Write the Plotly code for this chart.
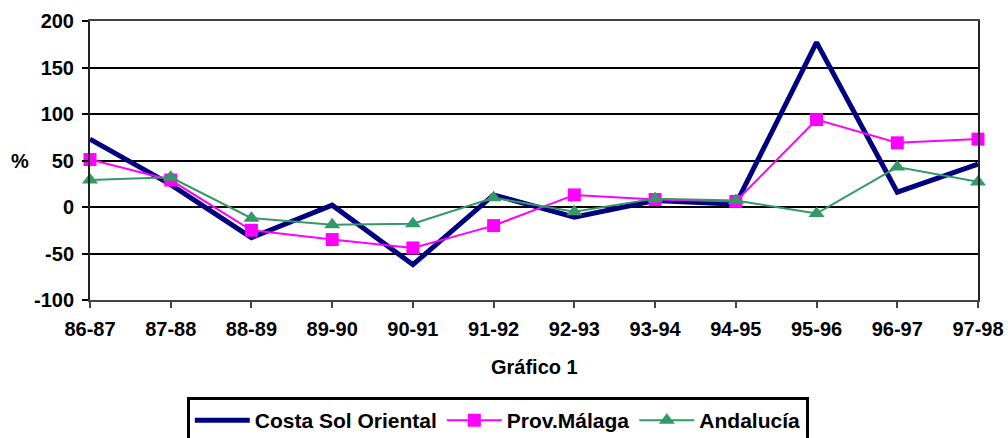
import plotly.graph_objects as go

# campañas
periodos = ["86-87", "87-88", "88-89", "89-90", "90-91", "91-92",
            "92-93", "93-94", "94-95", "95-96", "96-97", "97-98"]

# variación (%)
costa_sol = [73, 24, -33, 2, -62, 13, -11, 7, 3, 177, 16, 46]
prov_malaga = [51, 29, -25, -35, -44, -20, 13, 8, 6, 94, 69, 73]
andalucia = [29, 32, -12, -19, -18, 10, -5, 9, 7, -7, 43, 27]

# eje y
y_ticks = [-100, -50, 0, 50, 100, 150, 200]
y_labels = ["-100", "-50", "0", "50", "100", "150", "200"]

FONT = "Liberation Sans, Arial, sans-serif"

fig = go.Figure()
fig.add_trace(go.Scatter(
    x=periodos, y=costa_sol, name="Costa Sol Oriental",
    mode="lines", line=dict(color="#000080", width=5),
    cliponaxis=False))
fig.add_trace(go.Scatter(
    x=periodos, y=prov_malaga, name="Prov.Málaga",
    mode="lines+markers", line=dict(color="#FF00FF", width=2),
    marker=dict(symbol="square", size=13, color="#FF00FF"),
    cliponaxis=False))
fig.add_trace(go.Scatter(
    x=periodos, y=andalucia, name="Andalucía",
    mode="lines+markers", line=dict(color="#339966", width=2),
    marker=dict(symbol="triangle-up", size=14, color="#339966"),
    cliponaxis=False))

fig.update_layout(
    width=1008, height=438,
    margin=dict(l=90, r=30, t=21, b=138, autoexpand=False),
    paper_bgcolor="white", plot_bgcolor="white",
    font=dict(family=FONT, size=20, color="black", weight="bold"),
    showlegend=True,
    legend=dict(
        orientation="h", x=0.109, y=-0.348, xanchor="left", yanchor="top",
        bordercolor="black", borderwidth=3, bgcolor="white",
        font=dict(family=FONT, size=21, color="black", weight="bold"),
        itemwidth=55, tracegroupgap=0),
    xaxis=dict(
        type="category", range=[0, 11], automargin=False,
        showgrid=False, zeroline=False,
        showline=True, linecolor="#444", linewidth=2, mirror=True,
        ticks="outside", ticklen=6, tickwidth=2, tickcolor="#444",
        ticklabelstandoff=4),
    yaxis=dict(
        range=[-100, 200], tickvals=y_ticks, ticktext=y_labels,
        automargin=False,
        showgrid=True, gridcolor="black", gridwidth=2,
        zeroline=False,
        showline=True, linecolor="#222", linewidth=2, mirror=True,
        ticks="outside", ticklen=6, tickwidth=2, tickcolor="black",
        ticklabelstandoff=4),
    annotations=[
        dict(text="%", xref="paper", yref="y", x=-0.079, y=50,
             xanchor="center", yanchor="middle", showarrow=False,
             font=dict(family=FONT, size=20, weight="bold")),
        dict(text="Gráfico 1", xref="paper", yref="paper", x=0.5, y=-0.240,
             xanchor="center", yanchor="middle", showarrow=False,
             font=dict(family=FONT, size=20, weight="bold")),
    ],
)

fig.write_html("out.html", config={"displayModeBar": False},
               post_script="document.body.style.margin='0';")
